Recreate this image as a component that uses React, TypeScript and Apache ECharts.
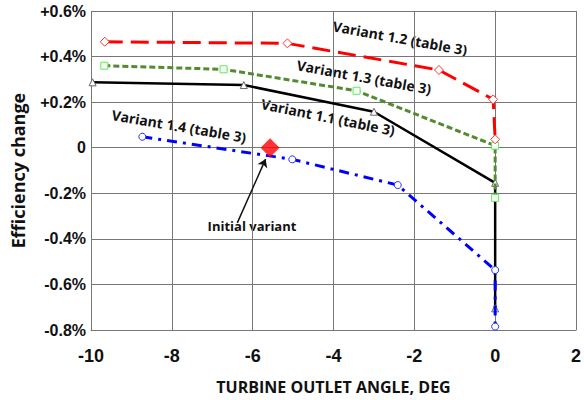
import React, { useEffect, useRef } from "react";
import * as echarts from "echarts";

const variant11: [number, number][] = [[-9.96, 0.287], [-6.22, 0.275], [-3.0, 0.158], [0, -0.154], [0, -0.705]];
const variant12: [number, number][] = [[-9.66, 0.465], [-5.14, 0.458], [-1.39, 0.341], [-0.05, 0.212], [0, 0.037]];
const variant13: [number, number][] = [[-9.67, 0.36], [-6.72, 0.344], [-3.43, 0.25], [0, 0.009], [0, -0.22]];
const variant14: [number, number][] = [[-8.73, 0.048], [-5.02, -0.051], [-2.41, -0.164], [0, -0.537], [0, -0.785]];
const initialVariant: [number, number][] = [[-5.57, 0]];
const arrowFrom: [number, number] = [-6.38, -0.33];
const arrowTo: [number, number] = [-5.68, -0.05];

const TICK_FONT = "Liberation Sans";
const TEXT_FONT = "Open Sans";

export default function App() {
  const ref = useRef<HTMLDivElement>(null);
  useEffect(() => {
    const chart = echarts.init(ref.current!, null, { renderer: "svg" });
    const labelText = (text: string, x: number, y: number, rot: number, size = 14) => ({
      type: "text",
      x,
      y,
      rotation: rot,
      style: {
        text,
        fill: "#111",
        font: `bold ${size}px "${TEXT_FONT}"`,
        textAlign: "center",
        textVerticalAlign: "middle",
      },
    });
    chart.setOption({
      animation: false,
      grid: { left: 91, right: 6, top: 11, bottom: 70 },
      xAxis: {
        type: "value",
        min: -10,
        max: 2,
        interval: 2,
        name: "TURBINE OUTLET ANGLE, DEG",
        nameLocation: "middle",
        nameGap: 49,
        nameTextStyle: { fontFamily: TEXT_FONT, fontWeight: "bold", fontSize: 16, color: "#111" },
        axisLine: { onZero: false, lineStyle: { color: "#777", width: 1 } },
        axisTick: { show: false },
        axisLabel: { fontFamily: TICK_FONT, fontWeight: "bold", fontSize: 18, color: "#111", margin: 17 },
        splitLine: { lineStyle: { color: "#777", width: 1 } },
      },
      yAxis: {
        type: "value",
        min: -0.8,
        max: 0.6,
        interval: 0.2,
        name: "Efficiency change",
        nameLocation: "middle",
        nameGap: 64,
        nameTextStyle: { fontFamily: TEXT_FONT, fontWeight: "bold", fontSize: 18, color: "#111" },
        axisLine: { lineStyle: { color: "#777", width: 1 } },
        axisTick: { show: false },
        axisLabel: {
          fontFamily: TICK_FONT,
          fontWeight: "bold",
          fontSize: 16,
          color: "#111",
          margin: 5,
          formatter: (v: number) => {
            const r = Math.round(v * 10) / 10;
            if (r === 0) return "0";
            return (r > 0 ? "+" : "") + r.toFixed(1) + "%";
          },
        },
        splitLine: { lineStyle: { color: "#777", width: 1 } },
      },
      series: [
        {
          name: "Variant 1.1",
          type: "line",
          data: variant11,
          symbol: "triangle",
          symbolSize: 7,
          itemStyle: { color: "#fff", borderColor: "#666", borderWidth: 1 },
          lineStyle: { color: "#000", width: 2.5 },
          z: 2,
        },
        {
          name: "Variant 1.4",
          type: "line",
          data: variant14,
          symbol: "circle",
          symbolSize: 7,
          itemStyle: { color: "#fff", borderColor: "#2233ff", borderWidth: 1 },
          lineStyle: { color: "#0000ff", width: 3, type: [10, 6, 3, 6] },
          z: 3,
        },
        {
          name: "Variant 1.3",
          type: "line",
          data: variant13,
          symbol: "rect",
          symbolSize: 7,
          itemStyle: { color: "#fff", borderColor: "#55ee55", borderWidth: 1 },
          lineStyle: { color: "#548a30", width: 3, type: [6, 3] },
          z: 4,
        },
        {
          name: "Variant 1.2",
          type: "line",
          data: variant12,
          symbol: "diamond",
          symbolSize: 9,
          itemStyle: { color: "#fff", borderColor: "#ff3333", borderWidth: 1 },
          lineStyle: { color: "#ff0000", width: 3, type: [18, 8] },
          z: 5,
        },
        {
          name: "Initial variant",
          type: "scatter",
          data: initialVariant,
          symbol: "diamond",
          symbolSize: 19,
          itemStyle: { color: "#ff0000" },
          z: 6,
          markLine: {
            silent: true,
            symbol: ["none", "arrow"],
            symbolSize: 8,
            label: { show: false },
            lineStyle: { color: "#111", width: 1.5, type: "solid" },
            data: [[{ coord: arrowFrom }, { coord: arrowTo }]],
          },
        },
      ],
      graphic: [
        labelText("Variant 1.2 (table 3)", 400, 38, -0.18),
        labelText("Variant 1.3 (table 3)", 364, 77, -0.18),
        labelText("Variant 1.1 (table 3)", 328, 117, -0.2),
        labelText("Variant 1.4 (table 3)", 179, 126, -0.17),
        labelText("Initial variant", 252, 226, 0, 13),
      ],
    });
    return () => chart.dispose();
  }, []);
  return <div ref={ref} style={{ width: 584, height: 400, position: "absolute", left: 0, top: 0 }} />;
}
